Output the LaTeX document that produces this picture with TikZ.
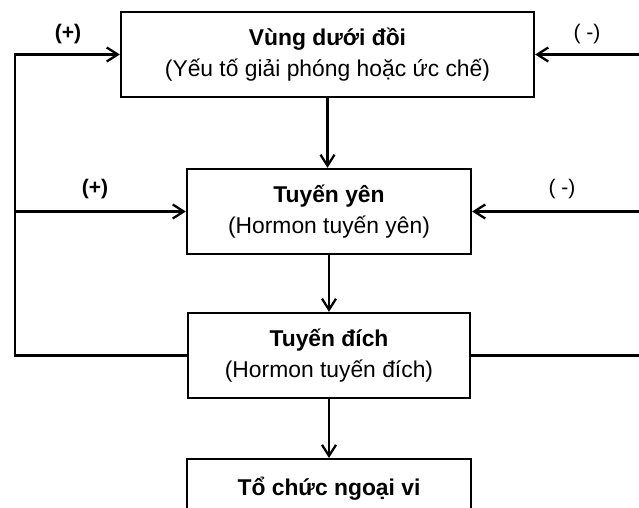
\documentclass[tikz,border=0pt]{standalone}
\usepackage{fontspec}
\setmainfont{Liberation Sans}
\usetikzlibrary{arrows.meta,positioning}

\tikzset{
  khoi/.style={draw, line width=1.3pt, minimum height=1.7cm, align=center,
    font=\fontsize{13}{18}\selectfont},
  nhan/.style={font=\fontsize{12}{14}\selectfont},
}

\begin{document}
\begin{tikzpicture}[x=1cm,y=1cm,>={Straight Barb[length=2.2mm,width=2.8mm]},line width=1.3pt]
  \useasboundingbox (0,0) rectangle (12.78,10.16);
  \clip (0,0) rectangle (12.78,10.16);

  \node[khoi, minimum width=8.26cm] (vung) at (6.55,9.07)
    {\textbf{Vùng dưới đồi}\\(Yếu tố giải phóng hoặc ức chế)};
  \node[khoi, minimum width=5.68cm] (yen) at (6.58,5.93)
    {\textbf{Tuyến yên}\\(Hormon tuyến yên)};
  \node[khoi, minimum width=5.64cm] (dich) at (6.58,3.05)
    {\textbf{Tuyến đích}\\(Hormon tuyến đích)};
  \node[khoi, minimum width=5.68cm, anchor=north] (ngoai) at (6.58,1.0)
    {\textbf{Tổ chức ngoại vi}\\\mbox{}};

  \coordinate (trai) at (0.3,0);
  \coordinate (phai) at (13.0,0);

  \draw[->] (vung.south) -- (vung.south |- yen.north);
  \draw[->] (yen.south) -- (yen.south |- dich.north);
  \draw[->] (dich.south) -- (dich.south |- ngoai.north);

  \draw[->] (dich.west) -- (dich.west -| trai) |- (vung.west);
  \draw[->] (yen.west -| trai) -- (yen.west);
  \draw[->] (dich.east) -- (dich.east -| phai) |- (vung.east);
  \draw[->] (yen.east -| phai) -- (yen.east);

  \node[nhan] (congA) at (1.36,9.48) {\textbf{(+)}};
  \node[nhan] (truA) at (11.74,9.48) {( -)};
  \node[nhan] (congB) at (1.9,6.38) {\textbf{(+)}};
  \node[nhan] (truB) at (11.24,6.38) {( -)};
\end{tikzpicture}
\end{document}
